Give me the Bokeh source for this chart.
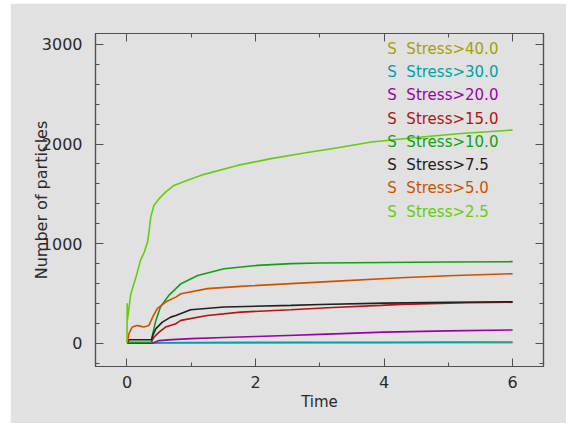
import numpy as np
from bokeh.plotting import figure
from bokeh.layouts import column, row
from bokeh.models import LinearAxis, SingleIntervalTicker, Range1d, ColumnDataSource, Spacer
from bokeh.embed import file_html
from bokeh.resources import INLINE
from bokeh.core.properties import value

# ---- data ----
legend_labels = ["S\u00a0 Stress>40.0", "S\u00a0 Stress>30.0", "S\u00a0 Stress>20.0", "S\u00a0 Stress>15.0",
                 "S\u00a0 Stress>10.0", "S\u00a0 Stress>7.5", "S\u00a0 Stress>5.0", "S\u00a0 Stress>2.5"]
legend_colors = ["#a8a000", "#00a0a8", "#9a00aa", "#b01414", "#12a012", "#202020", "#cc5200", "#66cc10"]

t_40 = [0, 1.0, 2.0, 3.0, 4.0, 5.0, 6.0]
v_40 = [0, 1, 1, 2, 2, 3, 3]

t_30 = [0, 0.4, 0.6, 1.0, 2.0, 3.0, 4.0, 5.0, 6.0]
v_30 = [0, 0, 3, 5, 7, 8, 9, 10, 11]

t_20 = [0, 0.4, 0.5, 0.7, 1.0, 1.5, 2.0, 2.5, 3.0, 4.0, 5.0, 6.0]
v_20 = [0, 0, 25, 35, 45, 57, 67, 77, 88, 110, 123, 132]

t_15 = [0, 0.37, 0.42, 0.5, 0.6, 0.76, 0.84, 1.25, 1.77, 2.55, 3.2, 3.95, 4.26, 5.3, 6.0]
v_15 = [0, 0, 60, 110, 161, 195, 228, 278, 311, 335, 358, 379, 389, 406, 410]

t_10 = [0, 0.02, 0.38, 0.40, 0.45, 0.52, 0.65, 0.76, 0.84, 1.1, 1.51, 2.03, 2.55, 3.0, 4.0, 5.0, 6.0]
v_10 = [0, 8, 8, 94, 228, 362, 479, 547, 597, 680, 747, 781, 798, 805, 810, 815, 818]

t_7 = [0, 0.03, 0.38, 0.40, 0.45, 0.55, 0.68, 0.76, 0.99, 1.51, 2.55, 3.0, 4.0, 5.0, 6.0]
v_7 = [0, 34, 34, 77, 145, 211, 261, 278, 335, 362, 379, 388, 402, 410, 415]

t_5 = [0, 0.006, 0.03, 0.08, 0.16, 0.26, 0.34, 0.40, 0.47, 0.60, 0.76, 0.84, 1.25, 1.77,
       2.55, 3.2, 4.26, 5.0, 6.0]
v_5 = [0, 10, 94, 161, 178, 161, 178, 261, 346, 412, 462, 496, 547, 570,
       597, 620, 657, 677, 697]

t_2 = [0, 0.003, 0.006, 0.06, 0.14, 0.21, 0.27, 0.32, 0.345, 0.37, 0.42, 0.5, 0.6, 0.73,
       0.94, 1.2, 1.72, 2.24, 2.76, 3.28, 3.8, 4.5, 5.2, 6.0]
v_2 = [0, 400, 228, 496, 663, 831, 915, 1015, 1132, 1266, 1384, 1451, 1517, 1584,
       1635, 1695, 1785, 1853, 1909, 1963, 2020, 2066, 2105, 2140]

series_t = [t_40, t_30, t_20, t_15, t_10, t_7, t_5, t_2]
series_v = [v_40, v_30, v_20, v_15, v_10, v_7, v_5, v_2]

x_tick_values = [0, 2, 4, 6]
y_tick_values = [0, 1000, 2000, 3000]

# ---- styling ----
BG = "#e1e1e1"
AX = "#505050"
TXT = "#2a2a2a"
FONT = "DejaVu Sans"

p = figure(width=556, height=420, output_backend="svg", toolbar_location=None,
           x_range=Range1d(-0.49, 6.48), y_range=Range1d(-235, 3110),
           x_axis_type=None, y_axis_type=None,
           min_border_left=85, min_border_right=23, min_border_top=30, min_border_bottom=57,
           background_fill_color=BG, border_fill_color=BG)
p.outline_line_color = AX
p.outline_line_width = 1.2


def make_axis(ticker, show_labels, standoff, ticks):
    ax = LinearAxis(ticker=ticker, axis_line_color=AX, axis_line_width=1.2,
                    major_tick_line_color=AX, minor_tick_line_color=AX,
                    major_tick_in=8, major_tick_out=0, minor_tick_in=4, minor_tick_out=0,
                    major_label_text_font=FONT, major_label_text_color=TXT,
                    major_label_text_font_size="16px",
                    major_label_standoff=standoff,
                    axis_label_text_font=FONT, axis_label_text_color=TXT,
                    axis_label_text_font_style="normal")
    if not show_labels:
        ax.major_label_overrides = {v: "" for v in ticks}
        ax.major_label_standoff = 0
    return ax


xt = SingleIntervalTicker(interval=x_tick_values[1] - x_tick_values[0], num_minor_ticks=2)
yt = SingleIntervalTicker(interval=y_tick_values[1] - y_tick_values[0], num_minor_ticks=5)

xb = make_axis(xt, True, 9, x_tick_values)
xb.axis_label = "Time"
xb.axis_label_text_font_size = "15px"
xb.axis_label_standoff = 2
p.add_layout(xb, "below")
p.add_layout(make_axis(xt, False, 0, x_tick_values), "above")

yl = make_axis(yt, True, 13, y_tick_values)
yl.axis_label = "Number of particles"
yl.axis_label_text_font_size = "16px"
yl.axis_label_standoff = -12
p.add_layout(yl, "left")
p.add_layout(make_axis(yt, False, 0, y_tick_values), "right")

for tt, vv, col in zip(series_t, series_v, legend_colors):
    p.line(tt, vv, line_color=col, line_width=1.6)

# legend as coloured text entries
n = len(legend_labels)
leg_src = ColumnDataSource(dict(
    x=[4.05] * n,
    y=[2958 - 234 * i for i in range(n)],
    text=legend_labels,
    color=legend_colors,
))
p.text(x="x", y="y", text="text", text_color="color", source=leg_src,
       text_font=value(FONT), text_font_size="15px", text_baseline="middle", text_align="left")

layout = column(Spacer(height=3), row(Spacer(width=10), p))
open("out.html", "w").write(file_html(layout, INLINE))
